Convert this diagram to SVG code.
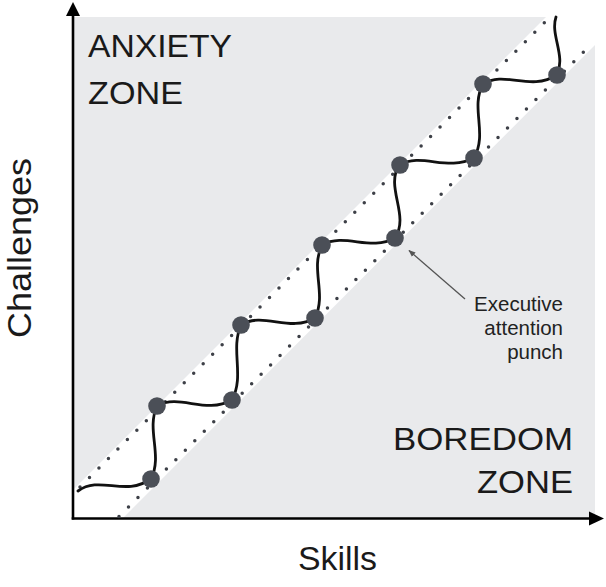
<svg xmlns="http://www.w3.org/2000/svg" width="606" height="587" viewBox="0 0 606 587">
<defs>
<style>
.zone{font-family:"Liberation Sans",Arial,sans-serif;font-size:32px;fill:#1a1a1a}
.axis-label{font-family:"Liberation Sans",Arial,sans-serif;font-size:34px;fill:#1a1a1a}
.note{font-family:"Liberation Sans",Arial,sans-serif;font-size:20.5px;fill:#222;text-anchor:end}
.dots{fill:none;stroke:#3d4047;stroke-width:3.5;stroke-linecap:round;stroke-dasharray:0 13.4}
.wave{fill:none;stroke:#111;stroke-width:2.8;stroke-linecap:round}
.punch{fill:#4b4f57}
.axis{stroke:#000;stroke-width:2.6;fill:none}
</style>
<marker id="ah" viewBox="0 0 10 10" refX="9" refY="5" markerWidth="7" markerHeight="7" orient="auto" markerUnits="userSpaceOnUse">
<path d="M0,1 L10,5 L0,9 z" fill="#555"/>
</marker>
</defs>
<rect width="606" height="587" fill="#fff"/>
<g id="zones">
<rect x="73" y="17" width="522" height="501" fill="#e9eaec"/>
<polygon points="73,490 546,17 595,17 595,45 123,518 73,518" fill="#fff"/>
</g>
<g id="axes">
<line class="axis" x1="73" y1="519.5" x2="73" y2="14"/>
<polygon points="73,2 66,16 80,16" fill="#000"/>
<line class="axis" x1="71.7" y1="518.5" x2="591" y2="518.5"/>
<polygon points="604,518.5 589,511.5 589,525.5" fill="#000"/>
</g>
<g id="bounds">
<line class="dots" x1="80" y1="487" x2="550" y2="17"/>
<line class="dots" x1="119" y1="516.5" x2="587" y2="48.5"/>
</g>
<g id="connectors">
<path class="wave" d="M78,491 C100,475 125,497 151,479 C163,455 146,430 157,406 C180,393 205,415 232,400 C245,375 230,350 241,325 C263,311 290,333 315,318 C327,293 310,270 322,245 C345,232 370,252 395,238 C410,215 385,188 399,165 C422,152 447,172 474,158 C488,133 470,108 483,84 C505,70 530,92 557,75 C566,55 550,35 556,17"/>
<line x1="465" y1="299" x2="409" y2="250.5" stroke="#555" stroke-width="1.3" marker-end="url(#ah)"/>
</g>
<g id="punches">
<circle class="punch" cx="151" cy="479" r="8.8"/>
<circle class="punch" cx="157" cy="406" r="8.8"/>
<circle class="punch" cx="232" cy="400" r="8.8"/>
<circle class="punch" cx="241" cy="325" r="8.8"/>
<circle class="punch" cx="315" cy="318" r="8.8"/>
<circle class="punch" cx="322" cy="245" r="8.8"/>
<circle class="punch" cx="395" cy="238" r="8.8"/>
<circle class="punch" cx="400" cy="165" r="8.8"/>
<circle class="punch" cx="474" cy="158" r="8.8"/>
<circle class="punch" cx="483" cy="84" r="8.8"/>
<circle class="punch" cx="557" cy="75" r="8.8"/>
</g>
<g id="anxiety">
<text class="zone" x="88" y="57" textLength="144" lengthAdjust="spacingAndGlyphs">ANXIETY</text>
<text class="zone" x="88" y="104" textLength="95" lengthAdjust="spacingAndGlyphs">ZONE</text>
</g>
<g id="boredom">
<text class="zone" x="393" y="450" textLength="180" lengthAdjust="spacingAndGlyphs">BOREDOM</text>
<text class="zone" x="477" y="493" textLength="96" lengthAdjust="spacingAndGlyphs">ZONE</text>
</g>
<g id="note">
<text class="note" x="563" y="311">Executive</text>
<text class="note" x="563" y="335">attention</text>
<text class="note" x="563" y="359">punch</text>
</g>
<g id="labels">
<text class="axis-label" style="font-size:33px" transform="translate(31,248) rotate(-90)" text-anchor="middle" textLength="180" lengthAdjust="spacingAndGlyphs">Challenges</text>
<text class="axis-label" x="298" y="570" textLength="79" lengthAdjust="spacingAndGlyphs">Skills</text>
</g>
</svg>
